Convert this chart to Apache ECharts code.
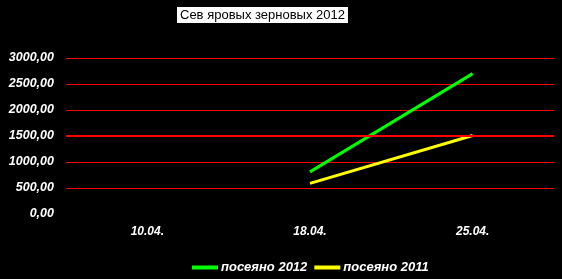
<!DOCTYPE html>
<html><head><meta charset="utf-8">
<script src="https://cdn.jsdelivr.net/npm/echarts@6/dist/echarts.min.js"></script>
<style>html,body{margin:0;padding:0;background:#000;}#c{width:562px;height:279px;}</style>
</head><body><div id="c"></div>
<script>
const categories = ['10.04.', '18.04.', '25.04.'];
const sown2012 = [null, 810, 2700];
const sown2011 = [null, 590, 1510];
const yTicks = [0, 500, 1000, 1500, 2000, 2500, 3000];
const targetLine = 1500;

const chart = echarts.init(document.getElementById('c'), null, {renderer: 'canvas'});
chart.setOption({
  backgroundColor: '#000',
  animation: false,
  title: {
    text: 'Сев яровых зерновых 2012',
    left: 177, top: 7,
    padding: [2, 3, 1, 3],
    backgroundColor: '#fff',
    textStyle: {color: '#000', fontFamily: 'Liberation Sans', fontSize: 13, fontWeight: 'normal'}
  },
  legend: {
    top: 256, left: 187,
    itemWidth: 26, itemHeight: 4, itemGap: 7,
    icon: 'rect',
    textStyle: {color: '#fff', fontFamily: 'Liberation Sans', fontSize: 13, fontWeight: 'bold', fontStyle: 'italic', padding: [0, 0, 0, -2]},
    data: ['посеяно 2012', 'посеяно 2011']
  },
  grid: {left: 66, right: 8, top: 58, bottom: 65, containLabel: false},
  xAxis: {
    type: 'category', data: categories, boundaryGap: true,
    axisLine: {show: false}, axisTick: {show: false},
    axisLabel: {color: '#fff', fontFamily: 'Liberation Sans', fontSize: 12, fontWeight: 'bold', fontStyle: 'italic', margin: 12}
  },
  yAxis: {
    type: 'value', min: yTicks[0], max: yTicks[yTicks.length - 1], interval: 500,
    axisLine: {show: false}, axisTick: {show: false},
    axisLabel: {color: '#fff', fontFamily: 'Liberation Sans', fontSize: 12.5, fontWeight: 'bold', fontStyle: 'italic', margin: 12,
      formatter: v => v.toFixed(2).replace('.', ',')},
    splitLine: {show: true, lineStyle: {color: ['rgba(0,0,0,0)', '#ff0000', '#ff0000', '#ff0000', '#ff0000', '#ff0000', '#ff0000'], width: 1}}
  },
  series: [
    {name: 'посеяно 2012', type: 'line', data: sown2012, showSymbol: false, symbol: 'none',
     lineStyle: {color: '#00ff00', width: 3}, itemStyle: {color: '#00ff00'},
     markLine: {silent: true, symbol: 'none', label: {show: false},
       lineStyle: {color: '#ff0000', width: 2, type: 'solid'}, data: [{yAxis: targetLine}]}},
    {name: 'посеяно 2011', type: 'line', data: sown2011, showSymbol: false, symbol: 'none',
     lineStyle: {color: '#ffff00', width: 3}, itemStyle: {color: '#ffff00'}}
  ]
});
</script></body></html>
